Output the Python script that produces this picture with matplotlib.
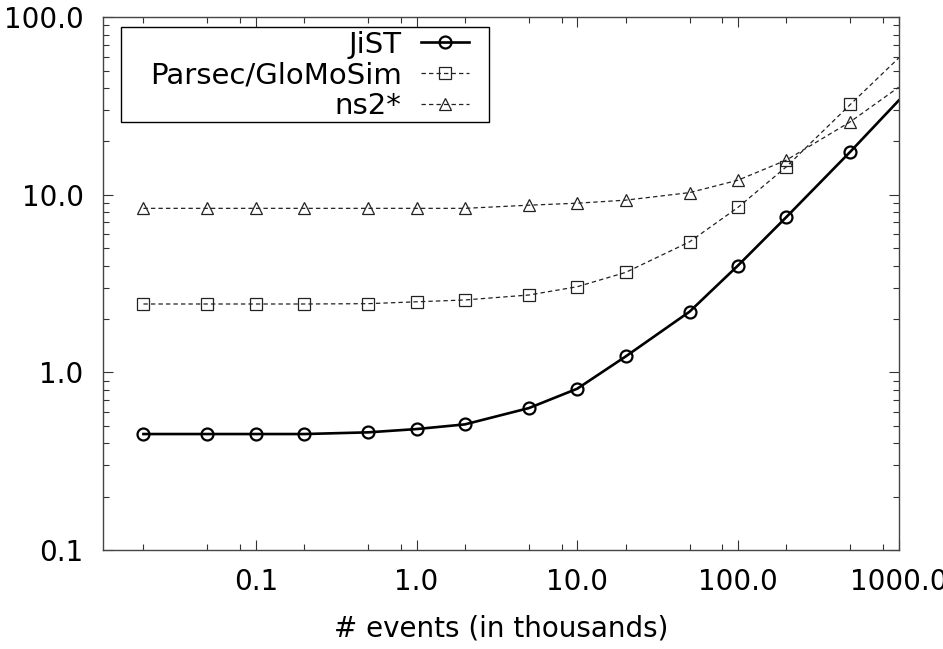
import matplotlib
matplotlib.use("Agg")
import matplotlib.pyplot as plt
from matplotlib.patches import Rectangle
from matplotlib.ticker import FixedLocator, NullFormatter

# event counts (thousands) and times for each simulator
events = [0.02, 0.05, 0.1, 0.2, 0.5, 1, 2, 5, 10, 20, 50, 100, 200, 500, 1000]
jist = [0.45, 0.45, 0.45, 0.45, 0.46, 0.48, 0.51, 0.63, 0.81, 1.23, 2.2, 4.0, 7.5, 17.5, 34]
parsec = [2.43, 2.43, 2.43, 2.43, 2.44, 2.50, 2.56, 2.73, 3.04, 3.66, 5.44, 8.5, 14.4, 32.3, 59]
ns2 = [8.4, 8.4, 8.4, 8.4, 8.4, 8.4, 8.4, 8.75, 8.98, 9.34, 10.3, 12.1, 15.7, 25.8, 40.4]

x_ticks = [0.1, 1, 10, 100, 1000]
x_tick_labels = ["0.1", "1.0", "10.0", "100.0", "1000.0"]
y_ticks = [0.1, 1, 10, 100]
y_tick_labels = ["0.1", "1.0", "10.0", "100.0"]

plt.rcParams['font.family'] = ['DejaVu Sans']
plt.rcParams['font.size'] = 20

fig = plt.figure(figsize=(9.43, 6.49), dpi=100)
ax = fig.add_axes([0.1092, 0.1525, 0.8438, 0.8208])

marks = list(range(len(events) - 1))  # last point sits past the frame edge

ax.plot(events, jist, '-', color='black', lw=1.9, marker='o', ms=8.6,
        mfc='none', mec='black', mew=1.6, markevery=marks, label='JiST')
ax.plot(events, parsec, color='#222222', lw=0.9, dashes=(3.5, 2.5), marker='s', ms=8.6,
        mfc='none', mec='#222222', mew=0.9, markevery=marks, label='Parsec/GloMoSim')
ax.plot(events, ns2, color='#222222', lw=0.9, dashes=(3.5, 2.5), marker='^', ms=8.6,
        mfc='none', mec='#222222', mew=0.9, markevery=marks, label='ns2*')

ax.set_xscale('log')
ax.set_yscale('log')
ax.set_xlim(0.0112, 1000)
ax.set_ylim(0.1, 100)

ax.set_xticks(x_ticks)
ax.set_xticklabels(x_tick_labels)
ax.set_yticks(y_ticks)
ax.set_yticklabels(y_tick_labels)

x_minor = [m * d for d in [0.01, 0.1, 1, 10, 100] for m in (2, 5, 8)]
y_minor = [m * d for d in [0.1, 1, 10] for m in range(2, 10)]
ax.xaxis.set_minor_locator(FixedLocator(x_minor))
ax.yaxis.set_minor_locator(FixedLocator(y_minor))
ax.xaxis.set_minor_formatter(NullFormatter())
ax.yaxis.set_minor_formatter(NullFormatter())

ax.tick_params(which='both', direction='in', top=True, right=True,
               color='#333333', width=0.8)
ax.tick_params(which='major', length=7.2)
ax.tick_params(which='minor', length=4.5)
ax.tick_params(axis='x', which='major', pad=13)
ax.tick_params(axis='y', which='major', pad=14)

for s in ax.spines.values():
    s.set_color('#444444')
    s.set_linewidth(1.0)

ax.set_xlabel('# events (in thousands)', labelpad=13)

# legend: text right-aligned, sample on the right, frame drawn separately
leg = ax.legend(loc='upper right', bbox_to_anchor=(0.46, 0.975), borderaxespad=0,
                borderpad=0, frameon=False, markerfirst=False, numpoints=1,
                fontsize=21, handlelength=1.63, handletextpad=0.68,
                labelspacing=0.1)
frame = Rectangle((0.0226, 0.8035), 0.4625, 0.1783, transform=ax.transAxes,
                  facecolor='white', edgecolor='black', lw=1.0, zorder=4)
ax.add_patch(frame)
leg.set_zorder(5)

fig.savefig('out.png', dpi=100)
